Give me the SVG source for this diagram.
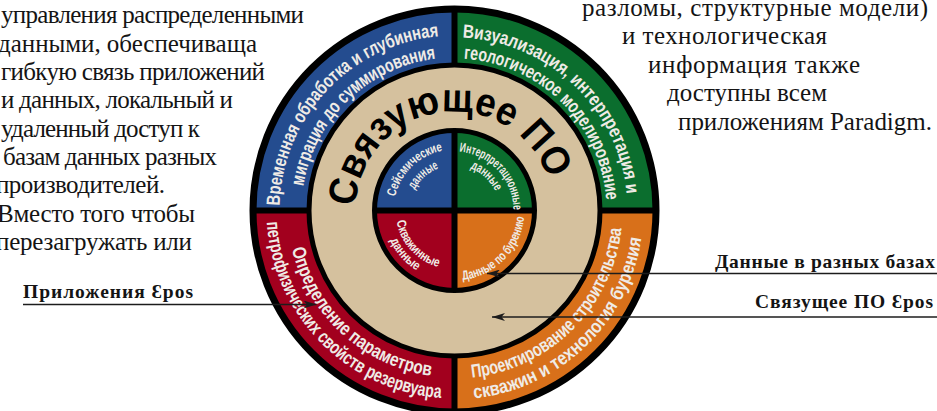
<svg xmlns="http://www.w3.org/2000/svg" width="937" height="411" viewBox="0 0 937 411">
<style>
.para{font-family:"Liberation Serif","Times New Roman",serif;font-size:25px;fill:#141414}
.lbl{font-family:"Liberation Serif","Times New Roman",serif;font-size:19.5px;font-weight:bold;fill:#141414}
.ring{font-family:"Liberation Sans Narrow","Liberation Sans",Arial,sans-serif;font-size:19px;font-weight:bold;fill:#efebe6}
.core{font-family:"Liberation Sans Narrow","Liberation Sans",Arial,sans-serif;font-size:13px;font-weight:bold;fill:#efebe6}
.big{font-family:"Liberation Sans",Arial,sans-serif;font-size:40px;font-weight:bold;fill:#000}
.div{stroke:#000;stroke-width:6}
.conn{stroke:#1c1c1c;stroke-width:1.5;fill:none}
</style>
<defs>
<marker id="arr" markerUnits="userSpaceOnUse" markerWidth="14" markerHeight="8" refX="13" refY="4" orient="auto">
<path d="M0,0 L13,4 L0,8 L3.5,4 Z" fill="#1c1c1c"/>
</marker>
<path id="p1" d="M286.97,261.08 A175,175 0 0 1 494.46,40.12"/>
<path id="p2" d="M306.04,247.51 A153,153 0 0 1 496.67,63.43"/>
<path id="p3" d="M405.66,44.54 A173,173 0 0 1 622.65,251.18"/>
<path id="p4" d="M414.65,63.82 A152,152 0 0 1 601.46,249.33"/>
<path id="p5" d="M291.43,174.50 A167,167 0 0 0 504.86,369.73"/>
<path id="p6" d="M273.16,160.89 A188,188 0 0 0 502.21,392.35"/>
<path id="p7" d="M410.74,372.70 A168,168 0 0 0 616.85,167.30"/>
<path id="p8" d="M401.61,391.95 A189,189 0 0 0 638.08,165.58"/>
<path id="p9" d="M395.35,225.41 A61,61 0 0 1 471.16,151.82"/>
<path id="p10" d="M410.42,219.55 A45,45 0 0 1 468.70,167.80"/>
<path id="p11" d="M441.33,152.99 A59,59 0 0 1 510.89,227.85"/>
<path id="p12" d="M441.04,167.56 A45,45 0 0 1 498.42,220.32"/>
<path id="p13" d="M398.32,192.46 A59,59 0 0 0 466.97,268.17"/>
<path id="p14" d="M387.27,187.68 A71,71 0 0 0 468.35,280.14"/>
<path id="p15" d="M437.27,278.35 A70,70 0 0 0 521.87,191.50"/>
<path id="p16" d="M356.24,222.57 A99,99 0 0 1 552.28,195.01"/>
</defs>

<g id="left-text" class="para">
<text x="1" y="23" textLength="303">управления распределенными</text>
<text x="-2" y="51.5" textLength="259">данными, обеспечиваща</text>
<text x="1" y="80" textLength="264">гибкую связь приложений</text>
<text x="1" y="108" textLength="232">и данных, локальный и</text>
<text x="1" y="136.5" textLength="199">удаленный доступ к</text>
<text x="3" y="165" textLength="214">базам данных разных</text>
<text x="-4" y="193" textLength="169">производителей.</text>
<text x="-3" y="221.5" textLength="198">Вместо того чтобы</text>
<text x="-4" y="249.5" textLength="196">перезагружать или</text>
</g>

<g id="right-text" class="para">
<text x="582" y="15.5" textLength="346">разломы, структурные модели)</text>
<text x="622" y="44" textLength="205">и технологическая</text>
<text x="648" y="72.5" textLength="212">информация также</text>
<text x="667" y="101" textLength="160">доступны всем</text>
<text x="678" y="129.5" textLength="254">приложениям Paradigm.</text>
</g>

<g id="outer-ring">
<path id="seg-blue" d="M454.5,210.5 L252.5,210.5 A202,202 0 0 1 454.5,8.5 Z" fill="#244c8f"/>
<path id="seg-green" d="M454.5,210.5 L454.5,8.5 A202,202 0 0 1 656.5,210.5 Z" fill="#0b6e2e"/>
<path id="seg-orange" d="M454.5,210.5 L656.5,210.5 A202,202 0 0 1 454.5,412.5 Z" fill="#d8701a"/>
<path id="seg-red" d="M454.5,210.5 L454.5,412.5 A202,202 0 0 1 252.5,210.5 Z" fill="#a2001e"/>
<line class="div" x1="252" y1="210.5" x2="657" y2="210.5"/>
<line class="div" x1="454.5" y1="8" x2="454.5" y2="413"/>
<circle cx="454.5" cy="210.5" r="201.5" fill="none" stroke="#000" stroke-width="7"/>
</g>

<g id="node-processing" class="ring">
<text><textPath href="#p1" startOffset="50%" text-anchor="middle" textLength="254" lengthAdjust="spacingAndGlyphs">Временная обработка и глубинная</textPath></text>
<text><textPath href="#p2" startOffset="50%" text-anchor="middle" textLength="197" lengthAdjust="spacingAndGlyphs">миграция до суммирования</textPath></text>
</g>
<g id="node-interpretation" class="ring">
<text><textPath href="#p3" startOffset="50%" text-anchor="middle" textLength="247" lengthAdjust="spacingAndGlyphs">Визуализация, интерпретация и</textPath></text>
<text><textPath href="#p4" startOffset="50%" text-anchor="middle" textLength="219" lengthAdjust="spacingAndGlyphs">геологическое моделирование</textPath></text>
</g>
<g id="node-petrophysics" class="ring">
<text><textPath href="#p5" startOffset="50%" text-anchor="middle" textLength="200" lengthAdjust="spacingAndGlyphs">Определение параметров</textPath></text>
<text><textPath href="#p6" startOffset="50%" text-anchor="middle" textLength="270" lengthAdjust="spacingAndGlyphs">петрофизических свойств резервуара</textPath></text>
</g>
<g id="node-drilling" class="ring">
<text><textPath href="#p7" startOffset="50%" text-anchor="middle" textLength="228" lengthAdjust="spacingAndGlyphs">Проектирование строительства</textPath></text>
<text><textPath href="#p8" startOffset="50%" text-anchor="middle" textLength="249" lengthAdjust="spacingAndGlyphs">скважин и технология бурения</textPath></text>
</g>

<g id="node-middleware">
<circle cx="454.5" cy="210.5" r="145.5" fill="#d5c19e" stroke="#000" stroke-width="5"/>
<text class="big"><textPath href="#p16" startOffset="50%" text-anchor="middle" textLength="275" lengthAdjust="spacingAndGlyphs">Связующее ПО</textPath></text>
</g>

<g id="inner-core">
<path d="M454.5,210.5 L374.5,210.5 A80,80 0 0 1 454.5,130.5 Z" fill="#244c8f"/>
<path d="M454.5,210.5 L454.5,130.5 A80,80 0 0 1 534.5,210.5 Z" fill="#0b6e2e"/>
<path d="M454.5,210.5 L534.5,210.5 A80,80 0 0 1 454.5,290.5 Z" fill="#d8701a"/>
<path d="M454.5,210.5 L454.5,290.5 A80,80 0 0 1 374.5,210.5 Z" fill="#a2001e"/>
<line class="div" x1="375" y1="210.5" x2="534" y2="210.5"/>
<line class="div" x1="454.5" y1="131" x2="454.5" y2="290"/>
<circle cx="454.5" cy="210.5" r="80" fill="none" stroke="#000" stroke-width="5"/>
</g>
<g id="node-seismic" class="core">
<text><textPath href="#p9" startOffset="50%" text-anchor="middle" textLength="70" lengthAdjust="spacingAndGlyphs">Сейсмические</textPath></text>
<text><textPath href="#p10" startOffset="50%" text-anchor="middle" textLength="33" lengthAdjust="spacingAndGlyphs">данные</textPath></text>
</g>
<g id="node-interp-data" class="core">
<text><textPath href="#p11" startOffset="50%" text-anchor="middle" textLength="87" lengthAdjust="spacingAndGlyphs">Интерпретационные</textPath></text>
<text><textPath href="#p12" startOffset="50%" text-anchor="middle" textLength="35" lengthAdjust="spacingAndGlyphs">данные</textPath></text>
</g>
<g id="node-well-data" class="core">
<text><textPath href="#p13" startOffset="50%" text-anchor="middle" textLength="65" lengthAdjust="spacingAndGlyphs">Скважинные</textPath></text>
<text><textPath href="#p14" startOffset="50%" text-anchor="middle" textLength="41" lengthAdjust="spacingAndGlyphs">данные</textPath></text>
</g>
<g id="node-drill-data" class="core">
<text><textPath href="#p15" startOffset="50%" text-anchor="middle" textLength="95" lengthAdjust="spacingAndGlyphs">Данные по бурению</textPath></text>
</g>

<g id="labels" class="lbl">
<text id="lbl-apps" x="23" y="298" textLength="170">Приложения Ɛpos</text>
<text id="lbl-db" x="715" y="268" textLength="220">Данные в разных базах</text>
<text id="lbl-mw" x="755" y="308" textLength="178">Связущее ПО Ɛpos</text>
</g>

<g id="connectors">
<path class="conn" d="M23,304.5 H316.5" marker-end="url(#arr)"/>
<path class="conn" d="M937,273.5 H487" marker-end="url(#arr)"/>
<path class="conn" d="M937,317 H492" marker-end="url(#arr)"/>
</g>
</svg>
